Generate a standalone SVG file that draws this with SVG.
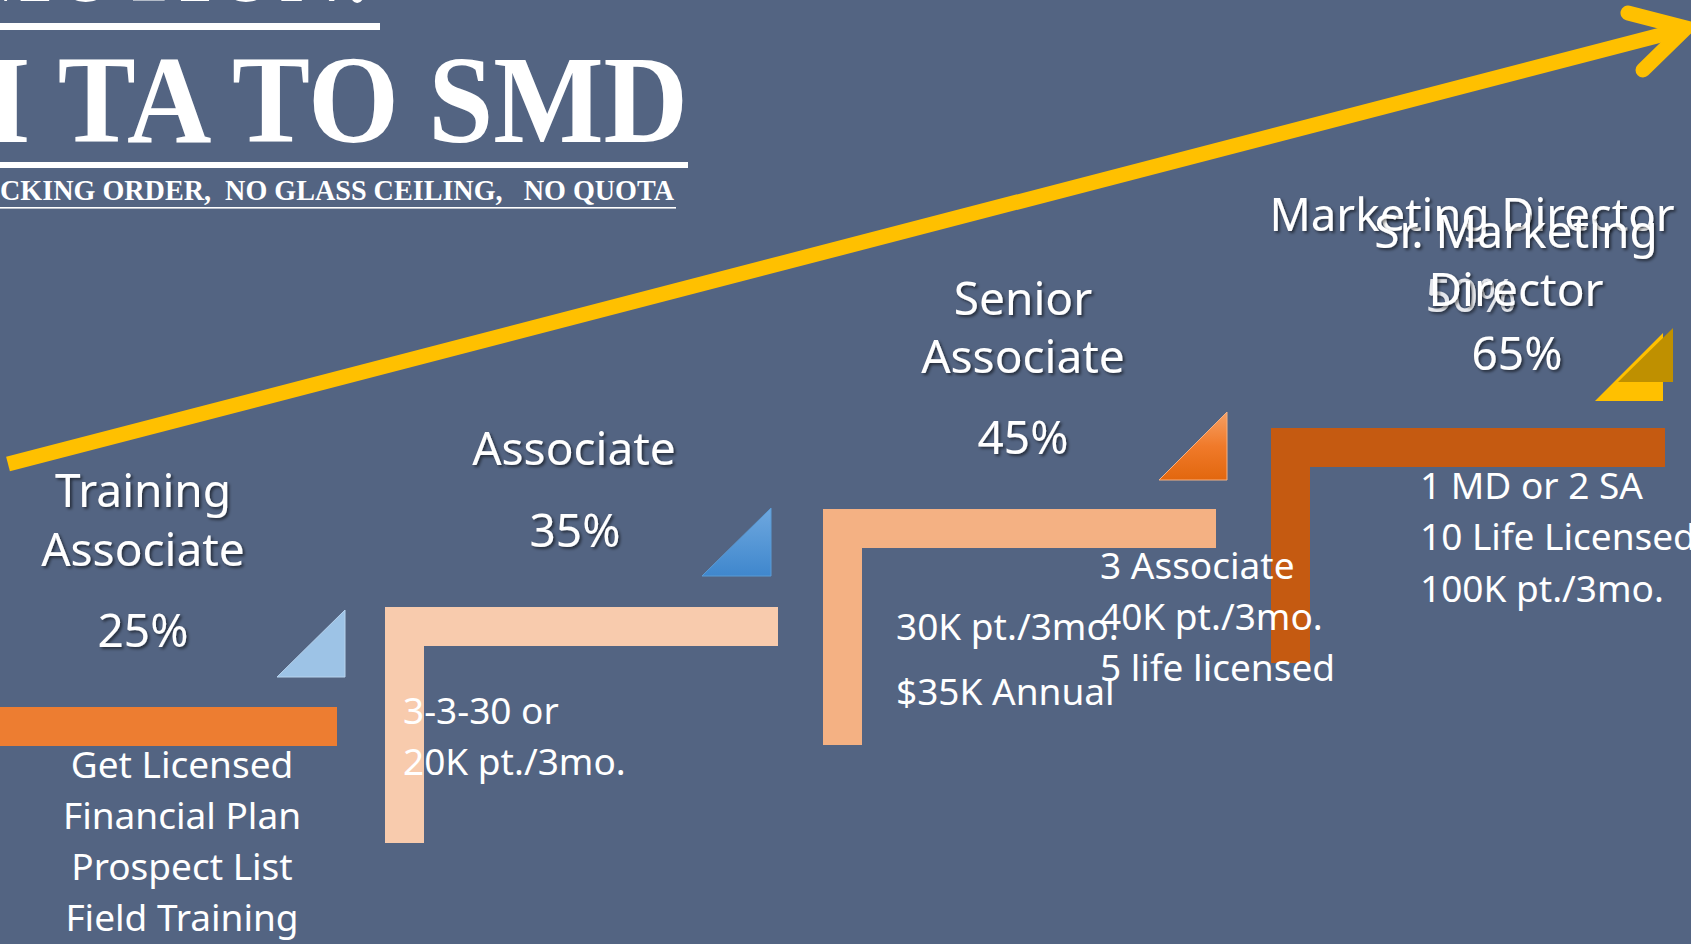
<svg xmlns="http://www.w3.org/2000/svg" width="1691" height="944" viewBox="0 0 1691 944">
  <defs>
    <filter id="sh" x="-10%" y="-10%" width="130%" height="140%">
      <feDropShadow dx="2" dy="2" stdDeviation="1.5" flood-color="#000" flood-opacity="0.55"/>
    </filter>
    <linearGradient id="gBlue" x1="0" y1="0" x2="0" y2="1">
      <stop offset="0" stop-color="#6FA8DF"/>
      <stop offset="1" stop-color="#3F87CD"/>
    </linearGradient>
    <linearGradient id="gOrange" x1="0" y1="0" x2="0" y2="1">
      <stop offset="0" stop-color="#F6A064"/>
      <stop offset="0.5" stop-color="#F07A2A"/>
      <stop offset="1" stop-color="#E2670E"/>
    </linearGradient>
    <style>
      .hd { font-family: "Liberation Serif", "DejaVu Serif", serif; font-weight: bold; fill: #FFFFFF; }
      .t { font-family: "Noto Sans", "Open Sans", sans-serif; font-size: 46px; fill: #FFFFFF; text-anchor: middle; filter: url(#sh); }
      .d { font-family: "Noto Sans", "Open Sans", sans-serif; font-size: 37px; fill: #FFFFFF; }
      .dc { text-anchor: middle; }
    </style>
  </defs>

  <rect x="0" y="0" width="1691" height="944" fill="#536482"/>

  <!-- heading -->
  <g id="heading">
    <text class="hd" x="-215" y="1" font-size="125" textLength="587" lengthAdjust="spacingAndGlyphs">PROMOTION:</text>
    <rect x="0" y="23" width="380" height="7" fill="#FFFFFF"/>
    <text class="hd" x="-15" y="142" font-size="124" textLength="703" lengthAdjust="spacingAndGlyphs">I TA TO SMD</text>
    <rect x="0" y="162" width="688" height="6" fill="#FFFFFF"/>
    <text class="hd" x="0" y="200" font-size="29" font-weight="normal" style="white-space:pre" textLength="674" lengthAdjust="spacingAndGlyphs">CKING ORDER,  NO GLASS CEILING,   NO QUOTA</text>
    <rect x="0" y="207" width="676" height="1.6" fill="#FFFFFF"/>
  </g>

  <!-- connector -->
  <g id="connectors" fill="none" stroke="#FFC000" stroke-width="15">
    <path d="M8,464 L1684,29" stroke-linecap="butt"/>
    <path d="M1628,13 L1686,28 L1643,70" stroke-linecap="round" stroke-linejoin="miter"/>
  </g>

  <!-- Training Associate -->
  <g id="node-ta">
    <rect x="-5" y="707" width="342" height="39" fill="#ED7D31"/>
    <polygon points="277,677 345,677 345,610" fill="#9DC3E6" stroke="#B7D3EE" stroke-width="1"/>
    <text class="t" x="143" y="507">Training</text>
    <text class="t" x="143" y="566">Associate</text>
    <text class="t" x="143" y="647">25%</text>
    <text class="d dc" x="182" y="778">Get Licensed</text>
    <text class="d dc" x="182" y="829">Financial Plan</text>
    <text class="d dc" x="182" y="880">Prospect List</text>
    <text class="d dc" x="182" y="931">Field Training</text>
  </g>

  <!-- Associate -->
  <g id="node-a">
    <polygon points="385,607 778,607 778,646 424,646 424,843 385,843" fill="#F8CBAD"/>
    <polygon points="702,576 771,576 771,508" fill="url(#gBlue)" stroke="#5B9BD5" stroke-width="1"/>
    <text class="t" x="574" y="465">Associate</text>
    <text class="t" x="575" y="547">35%</text>
    <text class="d" x="403" y="724">3-3-30 or</text>
    <text class="d" x="403" y="775">20K pt./3mo.</text>
  </g>

  <!-- Senior Associate -->
  <g id="node-sa">
    <polygon points="823,509 1216,509 1216,548 862,548 862,745 823,745" fill="#F4B183"/>
    <polygon points="1159,480 1227,480 1227,412" fill="url(#gOrange)" stroke="#F4B183" stroke-width="1"/>
    <text class="t" x="1023" y="315">Senior</text>
    <text class="t" x="1023" y="373">Associate</text>
    <text class="t" x="1023" y="454">45%</text>
    <text class="d" x="896" y="640">30K pt./3mo.</text>
    <text class="d" x="896" y="705">$35K Annual</text>
  </g>

  <!-- Marketing Director -->
  <g id="node-md">
    <polygon points="1271,428 1665,428 1665,467 1310,467 1310,663 1271,663" fill="#C55A11"/>
    <polygon points="1595,401 1663,401 1663,333" fill="#FFC000"/>
    <text class="t" x="1472" y="231" textLength="405" lengthAdjust="spacingAndGlyphs">Marketing Director</text>
    <text class="t" x="1471" y="312" opacity="0.85">50%</text>
    <text class="d" x="1100" y="579">3 Associate</text>
    <text class="d" x="1100" y="630">40K pt./3mo.</text>
    <text class="d" x="1100" y="681">5 life licensed</text>
  </g>

  <!-- Sr. Marketing Director -->
  <g id="node-smd">
    <polygon points="1618,382 1673,382 1673,328" fill="#BF9000"/>
    <text class="t" x="1516" y="248">Sr. Marketing</text>
    <text class="t" x="1516" y="306">Director</text>
    <text class="t" x="1517" y="370">65%</text>
    <text class="d" x="1420" y="499">1 MD or 2 SA</text>
    <text class="d" x="1420" y="550">10 Life Licensed</text>
    <text class="d" x="1420" y="602">100K pt./3mo.</text>
  </g>
</svg>
